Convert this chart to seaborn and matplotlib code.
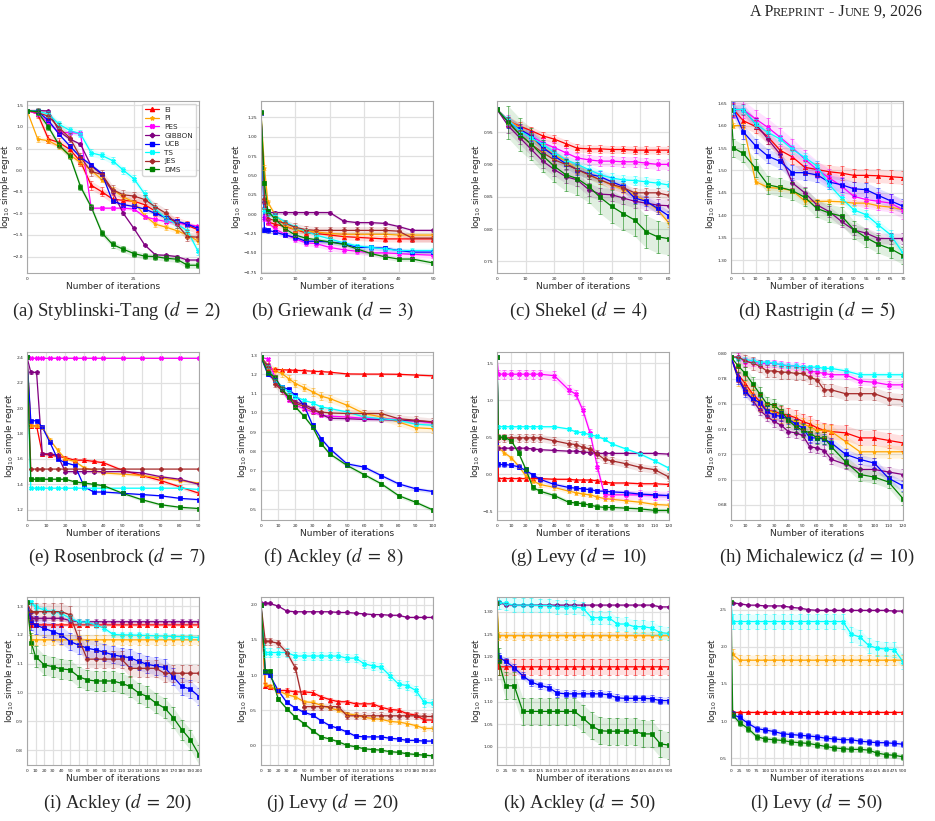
import pandas as pd
import seaborn as sns
import matplotlib.pyplot as plt
from matplotlib.lines import Line2D
from matplotlib.ticker import MultipleLocator
from matplotlib.offsetbox import TextArea, HPacker, AnchoredOffsetbox

METHODS = ["EI", "PI", "PES", "GIBBON", "UCB", "TS", "JES", "DMS"]
COLORS = {"EI": "red", "PI": "orange", "PES": "magenta", "GIBBON": "purple",
          "UCB": "blue", "TS": "cyan", "JES": "brown", "DMS": "green"}
MARKERS = {"EI": "^", "PI": "*", "PES": "X", "GIBBON": "P",
           "UCB": "s", "TS": "X", "JES": "P", "DMS": "s"}

# (a) Styblinski-Tang, d = 2
st_iters = [0, 2.5, 5, 7.5, 10, 12.5, 15, 17.5, 20, 22.5, 25, 27.5, 30, 32.5, 35, 37.5, 40]
st_regret = {
    "EI": [1.38, 1.3, 0.72, 0.64, 0.48, 0.2, -0.35, -0.5, -0.67, -0.7, -0.72, -0.8, -0.95, -1.12, -1.18, -1.28, -1.38],
    "PI": [1.38, 0.72, 0.68, 0.55, 0.35, 0.18, 0.0, -0.22, -0.45, -0.62, -0.74, -1.05, -1.25, -1.32, -1.4, -1.5, -1.64],
    "PES": [1.38, 1.3, 1.1, 0.87, 0.87, 0.85, -0.88, -0.88, -0.88, -0.88, -0.9, -1.08, -1.14, -1.19, -1.22, -1.26, -1.3],
    "GIBBON": [1.38, 1.38, 1.37, 0.9, 0.72, 0.6, 0.1, -0.1, -0.5, -1.0, -1.35, -1.73, -1.96, -1.97, -2.0, -2.08, -2.08],
    "UCB": [1.38, 1.36, 1.15, 0.83, 0.56, 0.3, 0.12, -0.08, -0.72, -0.8, -0.84, -0.9, -1.0, -1.1, -1.18, -1.25, -1.35],
    "TS": [1.38, 1.36, 1.3, 1.06, 0.92, 0.84, 0.4, 0.34, 0.22, 0.0, -0.2, -0.55, -0.9, -1.12, -1.25, -1.4, -1.88],
    "JES": [1.38, 1.33, 1.25, 0.98, 0.75, 0.3, -0.03, -0.1, -0.45, -0.57, -0.6, -0.68, -0.85, -1.0, -1.25, -1.54, -1.55],
    "DMS": [1.38, 1.35, 1.0, 0.58, 0.33, -0.38, -0.85, -1.45, -1.72, -1.83, -1.93, -1.99, -2.0, -2.04, -2.06, -2.2, -2.2],
}
st_err = {"EI": 0.1, "PI": 0.06, "PES": 0.04, "GIBBON": 0.03, "UCB": 0.04, "TS": 0.08, "JES": 0.1, "DMS": 0.07}

# (b) Griewank, d = 3
gr_iters = [0, 1, 2, 4, 7, 10, 13, 16, 20, 24, 28, 32, 36, 40, 44, 50]
gr_regret = {
    "EI": [1.3, 0.1, -0.1, -0.13, -0.16, -0.2, -0.24, -0.25, -0.27, -0.29, -0.3, -0.31, -0.32, -0.32, -0.32, -0.32],
    "PI": [1.3, 0.6, 0.15, 0.0, -0.15, -0.2, -0.22, -0.23, -0.25, -0.26, -0.26, -0.26, -0.26, -0.27, -0.27, -0.27],
    "PES": [1.3, -0.05, -0.1, -0.19, -0.26, -0.32, -0.37, -0.38, -0.43, -0.46, -0.48, -0.5, -0.5, -0.51, -0.52, -0.53],
    "GIBBON": [1.3, 0.15, 0.02, 0.02, 0.02, 0.02, 0.02, 0.02, 0.02, -0.09, -0.11, -0.11, -0.12, -0.16, -0.21, -0.21],
    "UCB": [1.3, -0.2, -0.21, -0.23, -0.27, -0.3, -0.35, -0.35, -0.36, -0.38, -0.43, -0.43, -0.44, -0.47, -0.49, -0.49],
    "TS": [1.3, 0.05, 0.0, -0.02, -0.1, -0.17, -0.22, -0.27, -0.32, -0.37, -0.41, -0.43, -0.45, -0.47, -0.47, -0.47],
    "JES": [1.3, 0.2, -0.06, -0.08, -0.12, -0.17, -0.2, -0.21, -0.21, -0.21, -0.21, -0.21, -0.21, -0.22, -0.31, -0.31],
    "DMS": [1.32, 0.4, 0.04, -0.06, -0.19, -0.27, -0.31, -0.33, -0.36, -0.39, -0.45, -0.51, -0.55, -0.58, -0.58, -0.63],
}
gr_err = {"EI": 0.04, "PI": 0.03, "PES": 0.04, "GIBBON": 0.02, "UCB": 0.03, "TS": 0.03, "JES": 0.05, "DMS": 0.03}

# (c) Shekel, d = 4
sh_iters = [0, 4, 8, 12, 16, 20, 24, 28, 32, 36, 40, 44, 48, 52, 56, 60]
sh_regret = {
    "EI": [0.985, 0.967, 0.959, 0.952, 0.944, 0.939, 0.932, 0.925, 0.924, 0.924, 0.923, 0.923, 0.922, 0.922, 0.922, 0.922],
    "PI": [0.985, 0.968, 0.957, 0.941, 0.926, 0.915, 0.905, 0.892, 0.884, 0.876, 0.868, 0.861, 0.853, 0.843, 0.830, 0.809],
    "PES": [0.985, 0.968, 0.953, 0.944, 0.933, 0.926, 0.918, 0.910, 0.907, 0.905, 0.905, 0.904, 0.904, 0.902, 0.900, 0.900],
    "GIBBON": [0.985, 0.959, 0.941, 0.923, 0.905, 0.892, 0.881, 0.876, 0.861, 0.854, 0.853, 0.848, 0.843, 0.840, 0.837, 0.836],
    "UCB": [0.985, 0.965, 0.954, 0.944, 0.926, 0.913, 0.901, 0.892, 0.885, 0.881, 0.873, 0.866, 0.848, 0.843, 0.832, 0.820],
    "TS": [0.985, 0.968, 0.952, 0.941, 0.931, 0.918, 0.907, 0.900, 0.892, 0.884, 0.879, 0.876, 0.875, 0.873, 0.871, 0.868],
    "JES": [0.985, 0.965, 0.946, 0.931, 0.918, 0.907, 0.900, 0.892, 0.884, 0.876, 0.869, 0.864, 0.856, 0.856, 0.856, 0.852],
    "DMS": [0.985, 0.965, 0.946, 0.931, 0.913, 0.897, 0.884, 0.878, 0.866, 0.849, 0.835, 0.824, 0.814, 0.796, 0.788, 0.785],
}
sh_err = {"EI": 0.006, "PI": 0.006, "PES": 0.008, "GIBBON": 0.01, "UCB": 0.008, "TS": 0.007, "JES": 0.007, "DMS": 0.025}

# (d) Rastrigin, d = 5
ra_iters = [0, 1, 5, 10, 15, 20, 25, 30, 35, 40, 45, 50, 55, 60, 65, 70]
ra_regret = {
    "EI": [1.636, 1.636, 1.611, 1.598, 1.575, 1.545, 1.53, 1.507, 1.502, 1.497, 1.494, 1.489, 1.489, 1.488, 1.486, 1.484],
    "PI": [1.636, 1.60, 1.60, 1.475, 1.462, 1.460, 1.455, 1.432, 1.431, 1.431, 1.430, 1.427, 1.427, 1.421, 1.418, 1.412],
    "PES": [1.636, 1.636, 1.636, 1.615, 1.596, 1.574, 1.551, 1.525, 1.502, 1.483, 1.465, 1.442, 1.435, 1.431, 1.427, 1.412],
    "GIBBON": [1.636, 1.636, 1.636, 1.604, 1.57, 1.536, 1.472, 1.45, 1.423, 1.408, 1.386, 1.367, 1.36, 1.348, 1.348, 1.348],
    "UCB": [1.636, 1.636, 1.586, 1.555, 1.532, 1.52, 1.495, 1.495, 1.49, 1.474, 1.468, 1.459, 1.457, 1.444, 1.432, 1.42],
    "TS": [1.636, 1.636, 1.636, 1.604, 1.585, 1.57, 1.547, 1.529, 1.51, 1.468, 1.438, 1.412, 1.401, 1.378, 1.356, 1.315],
    "DMS": [1.636, 1.55, 1.538, 1.505, 1.468, 1.462, 1.455, 1.44, 1.415, 1.405, 1.398, 1.368, 1.35, 1.335, 1.325, 1.31],
}
ra_err = {"EI": 0.015, "PI": 0.006, "PES": 0.02, "GIBBON": 0.012, "UCB": 0.016, "TS": 0.01, "DMS": 0.02}

# (e) Rosenbrock, d = 7
ro_iters = [0, 2, 5, 8, 12, 16, 20, 25, 30, 35, 40, 50, 60, 70, 80, 90]
ro_regret = {
    "EI": [2.4, 1.86, 1.86, 1.64, 1.63, 1.62, 1.61, 1.59, 1.59, 1.58, 1.57, 1.51, 1.47, 1.43, 1.38, 1.33],
    "PI": [2.4, 1.86, 1.86, 1.85, 1.75, 1.67, 1.6, 1.58, 1.53, 1.51, 1.49, 1.48, 1.47, 1.45, 1.43, 1.41],
    "PES": [2.4, 2.39, 2.39, 2.39, 2.39, 2.39, 2.39, 2.39, 2.39, 2.39, 2.39, 2.39, 2.39, 2.39, 2.39, 2.39],
    "GIBBON": [2.4, 2.28, 2.28, 1.64, 1.64, 1.63, 1.5, 1.5, 1.5, 1.5, 1.5, 1.5, 1.49, 1.46, 1.44, 1.40],
    "UCB": [2.4, 1.9, 1.9, 1.85, 1.73, 1.6, 1.57, 1.55, 1.38, 1.34, 1.34, 1.33, 1.32, 1.31, 1.29, 1.28],
    "TS": [2.4, 1.37, 1.37, 1.37, 1.37, 1.37, 1.37, 1.37, 1.37, 1.37, 1.37, 1.37, 1.37, 1.37, 1.37, 1.36],
    "JES": [2.4, 1.52, 1.52, 1.52, 1.52, 1.52, 1.52, 1.52, 1.52, 1.52, 1.52, 1.52, 1.52, 1.52, 1.52, 1.52],
    "DMS": [2.4, 1.44, 1.44, 1.44, 1.44, 1.44, 1.44, 1.42, 1.41, 1.40, 1.39, 1.33, 1.28, 1.24, 1.22, 1.21],
}
ro_err = {"EI": 0.015, "PI": 0.012, "PES": 0.003, "GIBBON": 0.012, "UCB": 0.008, "TS": 0.003, "JES": 0.003, "DMS": 0.012}

# (f) Ackley, d = 8
a8_iters = [0, 4, 8, 12, 16, 20, 25, 30, 35, 40, 50, 60, 70, 80, 90, 100]
a8_regret = {
    "EI": [1.29, 1.228, 1.226, 1.225, 1.223, 1.222, 1.22, 1.217, 1.215, 1.212, 1.203, 1.202, 1.202, 1.201, 1.197, 1.193],
    "PI": [1.29, 1.25, 1.218, 1.206, 1.179, 1.153, 1.132, 1.11, 1.087, 1.075, 1.04, 0.997, 0.979, 0.953, 0.923, 0.918],
    "PES": [1.29, 1.28, 1.188, 1.127, 1.066, 1.04, 1.023, 1.005, 0.988, 0.983, 0.979, 0.972, 0.97, 0.966, 0.958, 0.948],
    "GIBBON": [1.29, 1.245, 1.171, 1.118, 1.084, 1.057, 1.044, 1.023, 0.993, 0.972, 0.97, 0.966, 0.965, 0.962, 0.958, 0.953],
    "UCB": [1.29, 1.2, 1.171, 1.136, 1.122, 1.092, 1.04, 0.936, 0.866, 0.814, 0.735, 0.718, 0.674, 0.631, 0.605, 0.591],
    "TS": [1.29, 1.24, 1.171, 1.136, 1.11, 1.084, 1.066, 1.052, 1.031, 1.023, 1.005, 0.979, 0.97, 0.962, 0.941, 0.936],
    "JES": [1.29, 1.24, 1.153, 1.118, 1.084, 1.049, 1.035, 1.014, 1.005, 1.0, 0.997, 0.997, 0.997, 0.97, 0.962, 0.953],
    "DMS": [1.29, 1.21, 1.188, 1.127, 1.084, 1.031, 0.983, 0.927, 0.84, 0.787, 0.727, 0.679, 0.631, 0.57, 0.535, 0.495],
}
a8_err = {"EI": 0.006, "PI": 0.02, "PES": 0.008, "GIBBON": 0.01, "UCB": 0.01, "TS": 0.008, "JES": 0.02, "DMS": 0.01}

# (g) Levy, d = 10
l10_iters = [0, 1, 5, 10, 15, 20, 25, 30, 40, 50, 55, 60, 65, 70, 75, 80, 90, 100, 110, 120]
l10_regret = {
    "EI": [1.58, -0.06, -0.06, -0.06, -0.06, -0.06, -0.06, -0.06, -0.07, -0.07, -0.08, -0.08, -0.08, -0.09, -0.11, -0.12, -0.12, -0.13, -0.13, -0.14],
    "PI": [1.58, 0.36, 0.29, 0.22, 0.11, -0.02, -0.09, -0.14, -0.18, -0.23, -0.25, -0.27, -0.28, -0.31, -0.33, -0.34, -0.36, -0.38, -0.41, -0.42],
    "PES": [1.58, 1.35, 1.35, 1.35, 1.35, 1.35, 1.35, 1.35, 1.33, 1.14, 1.08, 0.86, 0.55, 0.1, -0.28, -0.28, -0.28, -0.28, -0.29, -0.29],
    "GIBBON": [1.58, 0.35, 0.35, 0.35, 0.35, 0.35, 0.34, 0.33, 0.32, 0.31, 0.31, 0.3, 0.29, 0.28, 0.28, 0.28, 0.28, 0.28, 0.28, 0.27],
    "UCB": [1.58, 0.13, 0.13, 0.12, 0.1, 0.05, -0.01, -0.07, -0.14, -0.18, -0.19, -0.2, -0.21, -0.23, -0.23, -0.24, -0.25, -0.27, -0.28, -0.29],
    "TS": [1.58, 0.64, 0.64, 0.64, 0.64, 0.64, 0.64, 0.64, 0.64, 0.61, 0.57, 0.56, 0.53, 0.51, 0.47, 0.41, 0.34, 0.27, 0.18, 0.08],
    "JES": [1.58, 0.49, 0.49, 0.49, 0.49, 0.49, 0.49, 0.49, 0.45, 0.41, 0.4, 0.36, 0.34, 0.27, 0.2, 0.18, 0.14, 0.09, 0.06, -0.04],
    "DMS": [1.58, 0.5, 0.5, 0.45, 0.29, 0.07, -0.18, -0.23, -0.29, -0.38, -0.39, -0.4, -0.42, -0.44, -0.45, -0.45, -0.46, -0.47, -0.49, -0.49],
}
l10_err = {"EI": 0.02, "PI": 0.03, "PES": 0.06, "GIBBON": 0.02, "UCB": 0.03, "TS": 0.02, "JES": 0.05, "DMS": 0.03}

# (h) Michalewicz, d = 10
mi_iters = [0, 5, 10, 15, 20, 25, 30, 35, 40, 45, 50, 55, 60, 65, 70, 80, 90, 100, 110, 120]
mi_regret = {
    "EI": [0.797, 0.783, 0.776, 0.768, 0.762, 0.755, 0.754, 0.752, 0.751, 0.749, 0.746, 0.744, 0.741, 0.739, 0.738, 0.737, 0.733, 0.733, 0.731, 0.729],
    "PI": [0.797, 0.779, 0.773, 0.767, 0.759, 0.755, 0.753, 0.75, 0.747, 0.746, 0.744, 0.742, 0.739, 0.739, 0.738, 0.73, 0.722, 0.722, 0.722, 0.722],
    "PES": [0.797, 0.797, 0.793, 0.793, 0.792, 0.792, 0.792, 0.791, 0.79, 0.79, 0.789, 0.786, 0.785, 0.784, 0.783, 0.783, 0.778, 0.777, 0.775, 0.775],
    "GIBBON": [0.797, 0.781, 0.771, 0.763, 0.755, 0.75, 0.746, 0.743, 0.738, 0.737, 0.735, 0.726, 0.725, 0.723, 0.716, 0.712, 0.708, 0.708, 0.706, 0.704],
    "UCB": [0.797, 0.78, 0.769, 0.764, 0.761, 0.754, 0.751, 0.75, 0.748, 0.744, 0.741, 0.733, 0.733, 0.732, 0.729, 0.72, 0.716, 0.713, 0.701, 0.695],
    "TS": [0.797, 0.796, 0.795, 0.794, 0.793, 0.793, 0.792, 0.791, 0.79, 0.79, 0.789, 0.789, 0.789, 0.788, 0.788, 0.786, 0.783, 0.783, 0.783, 0.783],
    "JES": [0.797, 0.797, 0.794, 0.792, 0.79, 0.786, 0.786, 0.785, 0.785, 0.784, 0.784, 0.781, 0.779, 0.771, 0.771, 0.768, 0.768, 0.768, 0.764, 0.763],
    "DMS": [0.797, 0.79, 0.784, 0.776, 0.768, 0.76, 0.759, 0.754, 0.747, 0.742, 0.739, 0.737, 0.733, 0.733, 0.726, 0.714, 0.704, 0.702, 0.698, 0.685],
}
mi_err = {"EI": 0.006, "PI": 0.005, "PES": 0.003, "GIBBON": 0.004, "UCB": 0.004, "TS": 0.002, "JES": 0.005, "DMS": 0.005}

# (i) Ackley, d = 20
a20_iters = [0, 5, 10, 20, 30, 40, 50, 60, 70, 80, 90, 100, 110, 120, 130, 140, 150, 160, 170, 180, 190, 200]
a20_regret = {
    "EI": [1.313, 1.235, 1.235, 1.235, 1.235, 1.235, 1.235, 1.235, 1.235, 1.235, 1.235, 1.235, 1.235, 1.235, 1.235, 1.235, 1.235, 1.235, 1.235, 1.235, 1.235, 1.235],
    "PI": [1.313, 1.183, 1.183, 1.183, 1.183, 1.183, 1.183, 1.183, 1.183, 1.183, 1.183, 1.183, 1.183, 1.183, 1.183, 1.183, 1.183, 1.183, 1.183, 1.183, 1.183, 1.183],
    "GIBBON": [1.313, 1.258, 1.258, 1.258, 1.258, 1.258, 1.25, 1.246, 1.246, 1.246, 1.246, 1.246, 1.246, 1.246, 1.246, 1.246, 1.246, 1.246, 1.246, 1.246, 1.246, 1.246],
    "UCB": [1.313, 1.246, 1.235, 1.223, 1.212, 1.2, 1.177, 1.165, 1.154, 1.148, 1.14, 1.131, 1.125, 1.121, 1.108, 1.098, 1.092, 1.087, 1.055, 1.021, 1.012, 0.986],
    "TS": [1.313, 1.313, 1.298, 1.287, 1.281, 1.275, 1.258, 1.246, 1.244, 1.235, 1.223, 1.202, 1.2, 1.2, 1.199, 1.198, 1.197, 1.196, 1.195, 1.194, 1.193, 1.191],
    "JES": [1.313, 1.281, 1.281, 1.281, 1.281, 1.281, 1.27, 1.188, 1.116, 1.116, 1.116, 1.116, 1.116, 1.084, 1.084, 1.084, 1.084, 1.067, 1.067, 1.067, 1.067, 1.067],
    "DMS": [1.313, 1.171, 1.125, 1.096, 1.09, 1.082, 1.079, 1.055, 1.044, 1.04, 1.04, 1.04, 1.032, 1.021, 0.998, 0.986, 0.963, 0.946, 0.913, 0.871, 0.836, 0.784],
}
a20_err = {"EI": 0.008, "PI": 0.018, "GIBBON": 0.008, "UCB": 0.03, "TS": 0.01, "JES": 0.03, "DMS": 0.035}

# (j) Levy, d = 20
l20_iters = [0, 5, 10, 20, 30, 40, 50, 60, 70, 80, 90, 100, 110, 120, 130, 140, 150, 160, 170, 180, 190, 200]
l20_regret = {
    "EI": [2.0, 0.85, 0.83, 0.78, 0.78, 0.76, 0.76, 0.75, 0.69, 0.65, 0.62, 0.62, 0.59, 0.59, 0.59, 0.54, 0.51, 0.5, 0.45, 0.43, 0.36, 0.36],
    "PI": [2.0, 0.87, 0.84, 0.78, 0.72, 0.69, 0.62, 0.61, 0.57, 0.53, 0.5, 0.45, 0.43, 0.4, 0.38, 0.37, 0.34, 0.33, 0.31, 0.28, 0.24, 0.24],
    "GIBBON": [2.02, 2.02, 2.02, 1.98, 1.91, 1.9, 1.9, 1.9, 1.9, 1.9, 1.89, 1.89, 1.88, 1.87, 1.86, 1.86, 1.85, 1.85, 1.82, 1.82, 1.82, 1.82],
    "UCB": [2.0, 1.05, 1.0, 0.78, 0.61, 0.53, 0.47, 0.43, 0.35, 0.28, 0.24, 0.19, 0.13, 0.12, 0.12, 0.12, 0.1, 0.09, 0.07, 0.07, 0.06, 0.06],
    "TS": [2.0, 1.32, 1.32, 1.32, 1.32, 1.27, 1.27, 1.27, 1.27, 1.27, 1.27, 1.24, 1.24, 1.16, 1.13, 1.11, 0.99, 0.87, 0.85, 0.78, 0.61, 0.6],
    "JES": [2.0, 1.48, 1.48, 1.45, 1.32, 1.1, 0.55, 0.55, 0.55, 0.55, 0.55, 0.42, 0.42, 0.42, 0.42, 0.42, 0.42, 0.42, 0.42, 0.42, 0.41, 0.41],
    "DMS": [2.0, 1.06, 1.06, 0.66, 0.52, 0.4, 0.31, 0.21, 0.12, 0.09, 0.05, 0.0, -0.02, -0.05, -0.06, -0.07, -0.09, -0.1, -0.12, -0.13, -0.14, -0.15],
}
l20_err = {"EI": 0.03, "PI": 0.03, "GIBBON": 0.015, "UCB": 0.025, "TS": 0.06, "JES": 0.05, "DMS": 0.025}

# (k) Ackley, d = 50
a50_iters = [0, 5, 25, 50, 75, 100, 125, 150, 175, 200, 225, 250, 275, 300, 325, 350, 375, 400, 425, 450, 475, 500]
a50_regret = {
    "EI": [1.32, 1.178, 1.178, 1.178, 1.178, 1.178, 1.178, 1.178, 1.178, 1.178, 1.178, 1.178, 1.178, 1.178, 1.178, 1.178, 1.178, 1.178, 1.178, 1.178, 1.178, 1.178],
    "PI": [1.32, 1.247, 1.247, 1.247, 1.247, 1.247, 1.247, 1.247, 1.247, 1.247, 1.247, 1.247, 1.247, 1.247, 1.247, 1.247, 1.247, 1.247, 1.247, 1.247, 1.247, 1.247],
    "GIBBON": [1.321, 1.321, 1.316, 1.315, 1.315, 1.315, 1.315, 1.315, 1.315, 1.315, 1.315, 1.315, 1.315, 1.315, 1.315, 1.315, 1.315, 1.315, 1.315, 1.315, 1.311, 1.311],
    "UCB": [1.2, 1.2, 1.19, 1.176, 1.158, 1.144, 1.137, 1.132, 1.12, 1.118, 1.118, 1.118, 1.118, 1.118, 1.116, 1.109, 1.108, 1.108, 1.108, 1.107, 1.103, 1.103],
    "TS": [1.321, 1.321, 1.319, 1.315, 1.315, 1.315, 1.314, 1.314, 1.311, 1.311, 1.311, 1.308, 1.287, 1.287, 1.287, 1.273, 1.273, 1.267, 1.267, 1.264, 1.254, 1.252],
    "DMS": [1.32, 1.19, 1.136, 1.136, 1.079, 1.079, 1.079, 1.079, 1.079, 1.079, 1.079, 1.064, 1.047, 1.036, 1.035, 1.035, 1.035, 1.035, 1.029, 1.029, 1.007, 1.004],
}
a50_err = {"EI": 0.018, "PI": 0.009, "GIBBON": 0.003, "UCB": 0.008, "TS": 0.015, "DMS": 0.03}

# (l) Levy, d = 50
l50_iters = [0, 5, 25, 50, 75, 100, 125, 150, 175, 200, 225, 250, 275, 300, 325, 350, 375, 400, 425, 450, 475, 500]
l50_regret = {
    "EI": [1.12, 1.12, 1.12, 1.12, 1.12, 1.12, 1.12, 1.12, 1.12, 1.12, 1.12, 1.12, 1.12, 1.12, 1.12, 1.12, 1.12, 1.12, 1.12, 1.12, 1.12, 1.12],
    "PI": [1.91, 1.9, 1.82, 1.82, 1.82, 1.82, 1.82, 1.82, 1.82, 1.82, 1.82, 1.82, 1.82, 1.82, 1.82, 1.82, 1.82, 1.82, 1.82, 1.82, 1.82, 1.82],
    "GIBBON": [2.59, 2.59, 2.58, 2.56, 2.56, 2.55, 2.55, 2.55, 2.53, 2.52, 2.5, 2.49, 2.49, 2.49, 2.49, 2.49, 2.49, 2.49, 2.49, 2.49, 2.48, 2.48],
    "UCB": [1.09, 1.09, 1.05, 0.97, 0.9, 0.88, 0.86, 0.83, 0.82, 0.81, 0.8, 0.79, 0.77, 0.76, 0.75, 0.75, 0.73, 0.72, 0.71, 0.71, 0.7, 0.69],
    "TS": [2.59, 2.34, 2.34, 2.34, 2.34, 2.34, 2.34, 2.34, 2.34, 2.34, 2.34, 2.34, 2.34, 2.34, 2.34, 2.17, 2.13, 2.02, 1.98, 1.97, 1.96, 1.8],
    "DMS": [2.6, 1.08, 0.98, 0.9, 0.79, 0.76, 0.75, 0.74, 0.72, 0.71, 0.7, 0.68, 0.66, 0.64, 0.63, 0.62, 0.62, 0.61, 0.57, 0.55, 0.54, 0.52],
}
l50_err = {"EI": 0.012, "PI": 0.07, "GIBBON": 0.015, "UCB": 0.04, "TS": 0.1, "DMS": 0.04}

# layout: caption, data, xlim, xstep, ylim, ystep
PANELS = [
    ("(a) Styblinski-Tang ($d\\;=\\;2$)", st_iters, st_regret, st_err, (0, 40.2), 25, (-2.38, 1.6), 0.5),
    ("(b) Griewank ($d\\;=\\;3$)", gr_iters, gr_regret, gr_err, (0, 50), 10, (-0.76, 1.46), 0.25),
    ("(c) Shekel ($d\\;=\\;4$)", sh_iters, sh_regret, sh_err, (0, 60), 10, (0.732, 0.998), 0.05),
    ("(d) Rastrigin ($d\\;=\\;5$)", ra_iters, ra_regret, ra_err, (0, 70), 5, (1.271, 1.655), 0.05),
    ("(e) Rosenbrock ($d\\;=\\;7$)", ro_iters, ro_regret, ro_err, (0, 90), 10, (1.12, 2.44), 0.2),
    ("(f) Ackley ($d\\;=\\;8$)", a8_iters, a8_regret, a8_err, (0, 100), 10, (0.443, 1.317), 0.1),
    ("(g) Levy ($d\\;=\\;10$)", l10_iters, l10_regret, l10_err, (0, 120), 10, (-0.62, 1.65), 0.5),
    ("(h) Michalewicz ($d\\;=\\;10$)", mi_iters, mi_regret, mi_err, (0, 120), 10, (0.668, 0.801), 0.02),
    ("(i) Ackley ($d\\;=\\;20$)", a20_iters, a20_regret, a20_err, (0, 200), 10, (0.748, 1.332), 0.1),
    ("(j) Levy ($d\\;=\\;20$)", l20_iters, l20_regret, l20_err, (0, 200), 10, (-0.28, 2.11), 0.5),
    ("(k) Ackley ($d\\;=\\;50$)", a50_iters, a50_regret, a50_err, (0, 500), 25, (0.96, 1.333), 0.05),
    ("(l) Levy ($d\\;=\\;50$)", l50_iters, l50_regret, l50_err, (0, 500), 25, (0.41, 2.67), 0.5),
]

sns.set_style("whitegrid", {"grid.color": "#e0e0e0", "axes.edgecolor": "#a8a8a8"})
plt.rcParams["font.family"] = ["DejaVu Sans"]

W, H = 935, 821
fig = plt.figure(figsize=(W / 100, H / 100), dpi=100)

col_left = [27, 261, 497, 731]
col_center = [117, 333, 579, 817]
row_top = [101, 352, 597]
row_bottom = [273, 520, 765]
row_caption = [311, 557, 803]


def draw_panel(ax, iters, regret, err):
    present = [m for m in METHODS if m in regret]
    rows = [(x, v, m) for m in present for x, v in zip(iters, regret[m])]
    df = pd.DataFrame(rows, columns=["iteration", "regret", "method"])
    sns.lineplot(data=df, x="iteration", y="regret", hue="method", style="method",
                 hue_order=present, style_order=present, palette=COLORS,
                 markers={m: MARKERS[m] for m in present}, dashes=False,
                 estimator=None, errorbar=None, legend=False, ax=ax,
                 linewidth=0.9, markersize=3)
    for line in ax.lines:
        line.set_markeredgecolor(line.get_color())
        line.set_markeredgewidth(0.5)
    for m in present:
        lo = [v - err[m] for v in regret[m][1:]]
        hi = [v + err[m] for v in regret[m][1:]]
        ax.fill_between(iters[1:], lo, hi, color=COLORS[m], alpha=0.12, linewidth=0)
        ax.errorbar(iters[1:], regret[m][1:], yerr=err[m], fmt="none", ecolor=COLORS[m],
                    elinewidth=0.6, capsize=1.5, capthick=0.6, alpha=0.6)


for i, (caption, iters, regret, err, xlim, xstep, ylim, ystep) in enumerate(PANELS):
    r, c = divmod(i, 4)
    left = col_left[c] / W
    bottom = 1 - row_bottom[r] / H
    ax = fig.add_axes([left, bottom, 172 / W, (row_bottom[r] - row_top[r]) / H])
    draw_panel(ax, iters, regret, err)
    ax.set_xlim(*xlim)
    ax.set_ylim(*ylim)
    ax.xaxis.set_major_locator(MultipleLocator(xstep))
    ax.yaxis.set_major_locator(MultipleLocator(ystep))
    ax.tick_params(labelsize=3.2, length=2, width=0.5, pad=0.8, color="#888888")
    ax.grid(True, linewidth=0.9)
    ax.set_xlabel("Number of iterations", fontsize=6.5, labelpad=1)
    ax.set_ylabel("log$_{10}$ simple regret", fontsize=6.3, labelpad=0.5)
    fig.text(col_center[c] / W, 1 - row_caption[r] / H, caption, ha="center", va="center",
             family="Liberation Serif", math_fontfamily="stix", fontsize=13.5)
    if i == 0:
        handles = [Line2D([], [], color=COLORS[m], marker=MARKERS[m], markersize=3,
                          markeredgecolor=COLORS[m], linewidth=0.9, label=m) for m in METHODS]
        ax.legend(handles=handles, loc="upper right", fontsize=5.2, frameon=True,
                  labelspacing=0.35, handlelength=1.9, borderaxespad=0.4, fancybox=True)

# running header with small caps
big = dict(family="Liberation Serif", size=11.5)
small = dict(family="Liberation Serif", size=9)
parts = [("A P", big), ("REPRINT", small), (" - J", big), ("UNE", small), (" 9, 2026", big)]
header = HPacker(children=[TextArea(t, textprops=p) for t, p in parts],
                 align="baseline", pad=0, sep=0)
fig.add_artist(AnchoredOffsetbox(loc="upper right", child=header, pad=0, borderpad=0,
                                 frameon=False, bbox_to_anchor=(922 / W, 1 - 4 / H),
                                 bbox_transform=fig.transFigure))

fig.savefig("out.png", dpi=100)
